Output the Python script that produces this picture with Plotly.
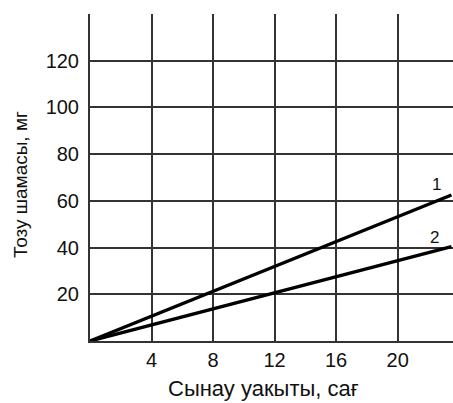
import plotly.graph_objects as go

time_h = [0, 23.5]
series_1 = [0, 62.5]
series_2 = [0, 40.4]
x_ticks = [0, 4, 8, 12, 16, 20]
x_ticktext = ["", "4", "8", "12", "16", "20"]
y_ticks = [0, 20, 40, 60, 80, 100, 120, 140]
y_ticktext = ["", "20", "40", "60", "80", "100", "120", ""]

fig = go.Figure()
fig.add_trace(go.Scatter(x=time_h, y=series_1, mode="lines",
                         line=dict(color="black", width=3.4), showlegend=False))
fig.add_trace(go.Scatter(x=time_h, y=series_2, mode="lines",
                         line=dict(color="black", width=3.4), showlegend=False))

fig.add_annotation(x=22.5, y=67, text="1", showarrow=False,
                   font=dict(size=17, color="#111"))
fig.add_annotation(x=22.4, y=44.5, text="2", showarrow=False,
                   font=dict(size=17, color="#111"))

# axis titles
fig.add_annotation(x=0.477, y=-0.145, xref="paper", yref="paper",
                   text="Сынау уакыты, сағ", showarrow=False,
                   xanchor="center", yanchor="middle",
                   font=dict(size=22, color="#111"))
fig.add_annotation(x=-0.193, y=0.48, xref="paper", yref="paper",
                   text="Тозу шамасы, мг", showarrow=False, textangle=-90,
                   xanchor="center", yanchor="middle",
                   font=dict(size=19, color="#111"))

grid = "#333333"
fig.update_layout(
    width=453, height=403,
    margin=dict(l=90, r=0, t=14, b=62),
    plot_bgcolor="white", paper_bgcolor="white",
    font=dict(family="Liberation Sans, Arial, sans-serif", size=20, color="#111"),
    xaxis=dict(range=[0, 23.6], tickvals=x_ticks, ticktext=x_ticktext,
               showgrid=True, gridcolor=grid, gridwidth=2,
               showline=True, linecolor=grid, linewidth=2,
               zeroline=False, ticks="", ticklen=0),
    yaxis=dict(range=[0, 140], tickvals=y_ticks, ticktext=y_ticktext,
               showgrid=True, gridcolor=grid, gridwidth=2,
               showline=True, linecolor=grid, linewidth=2,
               zeroline=False, ticks="outside", ticklen=5, tickcolor="white"),
)

fig.write_html("out.html", config={"displayModeBar": False},
               post_script="document.body.style.margin='0';")
